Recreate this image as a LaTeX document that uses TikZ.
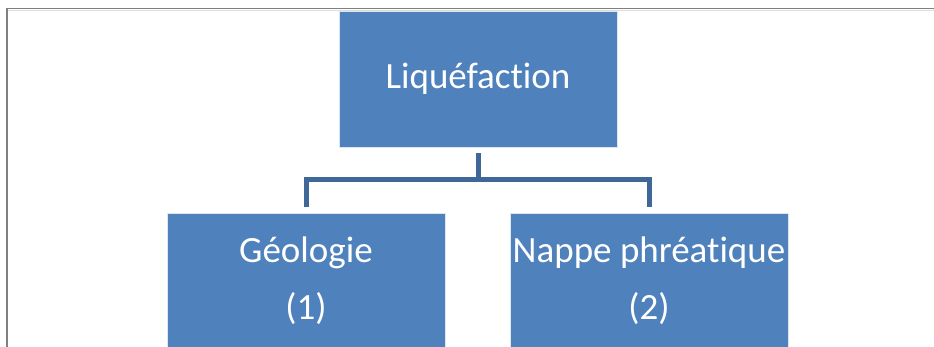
\documentclass[tikz,border=0pt]{standalone}
\usepackage{fontspec}
\setmainfont{Carlito}[Ligatures=NoCommon]
\definecolor{boxblue}{HTML}{4F81BD}
\definecolor{linkblue}{HTML}{3F6797}

\begin{document}
\begin{tikzpicture}[x=1pt,y=1pt,
  box/.style={fill=boxblue,draw=white!80!boxblue,line width=0.6,text=white,
    minimum width=278,align=center,inner sep=0,
    font=\fontsize{37}{57}\selectfont},
  link/.style={draw=linkblue,line width=5}]
\useasboundingbox (0,0) rectangle (934,347);

% frame
\draw[gray,line width=1.6] (7,0)--(7,338.5)--(934,338.5);
\draw[gray!25,line width=1] (8,336.8)--(934,336.8);

\node (root) at (478,268) [box,minimum height=136] {Liquéfaction};
\node (geo) at (306,66) [box,minimum height=136] {Géologie\\(1)};
\node (nappe) at (649,66) [box,minimum height=136] {Nappe phréatique\\(2)};

\coordinate (bus) at (478,167);
\draw[link] ([yshift=-6]root.south) -- (bus) -| ([yshift=6]geo.north);
\draw[link] (bus) -| ([yshift=6]nappe.north);

\end{tikzpicture}
\end{document}
